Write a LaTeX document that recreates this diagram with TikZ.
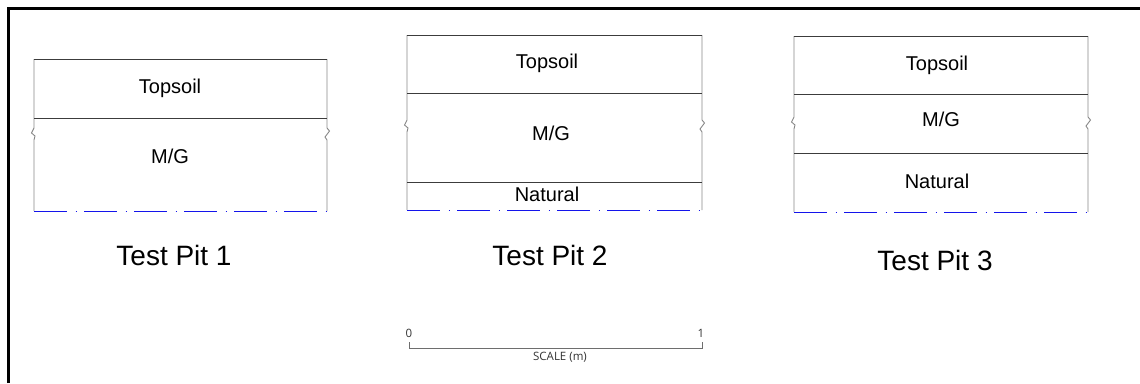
\documentclass[tikz,border=0pt]{standalone}
\usepackage{fontspec}
\setmainfont{Liberation Sans}
\newfontfamily\scalefont{Open Sans}
\definecolor{sidegrey}{RGB}{135,135,135}
\definecolor{layerline}{RGB}{60,60,60}
\definecolor{basedash}{RGB}{20,20,235}
\definecolor{scalegrey}{RGB}{110,110,110}
\tikzset{
  sideline/.style={draw=sidegrey, line width=0.9pt},
  layerln/.style={draw=layerline, line width=0.9pt},
  baseln/.style={draw=basedash, line width=0.9pt, dash pattern=on 32.5pt off 9pt on 1.5pt off 7pt},
  lbl/.style={anchor=base, inner sep=0pt, font=\fontsize{20}{24}\selectfont},
  ttl/.style={anchor=base, inner sep=0pt, font=\fontsize{28}{32}\selectfont},
  sclbl/.style={anchor=base, inner sep=0pt, text=black!80, font=\scalefont\fontsize{11.5}{13}\selectfont},
  frame/.style={draw=black, line width=3pt}
}
\begin{document}
\begin{tikzpicture}[x=1pt, y=-1pt]
\useasboundingbox (0,0) rectangle (1140,383);
% outer frame (left and top)
\draw[frame] (8.5,383) -- (8.5,8.5) -- (1140,8.5);

% ---------- Test Pit 1 ----------
\draw[sideline] (34,59) -- (34,128) -- (31.5,133) -- (35,136) -- (34,140) -- (34,211);
\draw[sideline] (327,59) -- (327,128) -- (329.5,131) -- (325,137) -- (327,140) -- (327,211);
\draw[layerln] (34,59) -- (327,59);
\draw[layerln] (34,118) -- (327,118);
\draw[baseln] (34,211) -- (327,211);
\node[lbl] (p1top) at (170,93.3) {Topsoil};
\node[lbl] (p1mg) at (170,163) {M/G};
\node[ttl] (p1ttl) at (174,265) {Test Pit 1};

% ---------- Test Pit 2 ----------
\draw[sideline] (407,35) -- (407,120) -- (404.5,125) -- (408,128) -- (407,132) -- (407,210);
\draw[sideline] (702,35) -- (702,120) -- (704.5,123) -- (700,129) -- (702,132) -- (702,210);
\draw[layerln] (407,35) -- (702,35);
\draw[layerln] (407,93) -- (702,93);
\draw[layerln] (407,182) -- (702,182);
\draw[baseln] (407,210) -- (702,210);
\node[lbl] (p2top) at (547,68.3) {Topsoil};
\node[lbl] (p2mg) at (551,140) {M/G};
\node[lbl] (p2nat) at (547,201.7) {Natural};
\node[ttl] (p2ttl) at (550,265) {Test Pit 2};

% ---------- Test Pit 3 ----------
\draw[sideline] (794,36) -- (794,117) -- (791.5,122) -- (795,125) -- (794,129) -- (794,212);
\draw[sideline] (1088,36) -- (1088,117) -- (1090.5,120) -- (1086,126) -- (1088,129) -- (1088,212);
\draw[layerln] (794,36) -- (1088,36);
\draw[layerln] (794,94) -- (1088,94);
\draw[layerln] (794,153) -- (1088,153);
\draw[baseln] (794,212) -- (1088,212);
\node[lbl] (p3top) at (937,70.7) {Topsoil};
\node[lbl] (p3mg) at (941,126.7) {M/G};
\node[lbl] (p3nat) at (937,188.3) {Natural};
\node[ttl] (p3ttl) at (935,270) {Test Pit 3};

% ---------- Scale bar ----------
\coordinate (s0) at (409,348);
\coordinate (s1) at (702,348);
\draw[scalegrey, line width=0.9pt] (409,342) -- (s0) -- (s1) -- (702,342);
\node[sclbl] (sc0) at (409,337) {0};
\node[sclbl] (sc1) at (701,337) {1};
\node[sclbl] (sctxt) at (560,360) {SCALE (m)};
\end{tikzpicture}
\end{document}
